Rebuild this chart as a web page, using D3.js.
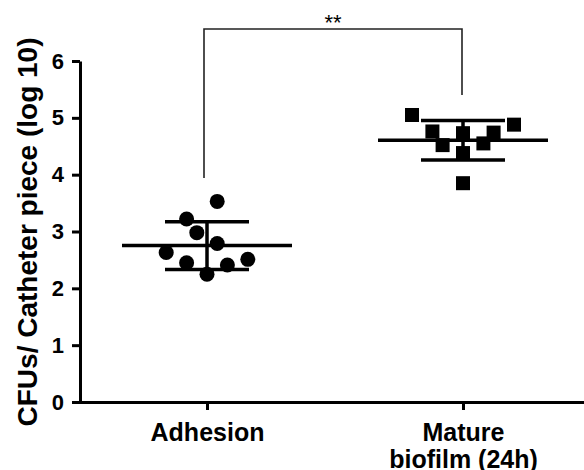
<!DOCTYPE html>
<html lang="en">
  <head>
    <meta charset="UTF-8" />
    <title>CFUs per catheter piece</title>
    <script src="https://d3js.org/d3.v7.min.js"></script>
    <style>
      body {
        margin: 0;
        background: #fff;
        font-family: "Liberation Sans", Arial, sans-serif;
      }
      .axis path,
      .axis line {
        stroke: #000;
        stroke-width: 3;
      }
      .axis text {
        font-family: "Liberation Sans", Arial, sans-serif;
        font-weight: bold;
        fill: #000;
      }
    </style>
  </head>
  <body>
    <div id="chart"></div>
    <script>
      // groups and log10 CFU values
      const categories = ["Adhesion", "Mature\nbiofilm (24h)"];
      const adhesionValues = [3.53, 3.22, 2.98, 2.79, 2.63, 2.45, 2.25, 2.41, 2.51];
      const matureValues = [5.05, 4.88, 4.76, 4.73, 4.74, 4.52, 4.55, 4.38, 3.85];
      // horizontal slot of each dot inside its column (scatter layout)
      const adhesionSlots = [1, -2, -1, 1, -4, -2, 0, 2, 4];
      const matureSlots = [-5, 5, -3, 0, 3, -2, 2, 0, 0];
      const yTicks = [0, 1, 2, 3, 4, 5, 6];
      const significance = "**";

      const width = 584;
      const height = 470;

      const svg = d3
        .select("#chart")
        .append("svg")
        .attr("width", width)
        .attr("height", height);

      const x = d3.scalePoint().domain(categories).range([79, 591]).padding(0.5);
      const y = d3.scaleLinear().domain([0, 6]).range([402, 61]);
      const slot = d3.scaleLinear().domain([0, 1]).range([0, 10.2]);

      const groups = [
        { name: categories[0], values: adhesionValues, slots: adhesionSlots, shape: "circle" },
        { name: categories[1], values: matureValues, slots: matureSlots, shape: "square" },
      ];

      // y axis
      const yAxis = svg
        .append("g")
        .attr("class", "axis")
        .attr("transform", "translate(80,0)")
        .call(d3.axisLeft(y).tickValues(yTicks).tickFormat(d3.format("d")).tickSize(8).tickSizeOuter(0).tickPadding(8));
      yAxis.selectAll("text").style("font-size", "22px");

      // x axis
      const xAxis = svg
        .append("g")
        .attr("class", "axis")
        .attr("transform", "translate(0,402)")
        .call(d3.axisBottom(x).tickSize(8).tickSizeOuter(0).tickPadding(13));
      xAxis.selectAll("text").style("font-size", "25px").each(function (d) {
        const t = d3.select(this);
        const lines = d.split("\n");
        t.text(null);
        lines.forEach((l, i) => {
          t.append("tspan")
            .attr("x", 0)
            .attr("dy", i === 0 ? "0.71em" : "1.1em")
            .text(l);
        });
        t.attr("dy", null);
      });

      // y axis title
      svg
        .append("text")
        .attr("transform", "translate(37,232) rotate(-90)")
        .attr("text-anchor", "middle")
        .style("font-size", "28px")
        .style("font-weight", "bold")
        .text("CFUs/ Catheter piece (log 10)");

      // dots
      groups.forEach((g) => {
        const cx = x(g.name);
        const sel = svg.append("g");
        if (g.shape === "circle") {
          sel
            .selectAll("circle")
            .data(g.values)
            .join("circle")
            .attr("cx", (d, i) => cx + slot(g.slots[i]))
            .attr("cy", (d) => y(d))
            .attr("r", 7.5)
            .attr("fill", "#000");
        } else {
          sel
            .selectAll("rect")
            .data(g.values)
            .join("rect")
            .attr("x", (d, i) => cx + slot(g.slots[i]) - 7)
            .attr("y", (d) => y(d) - 7)
            .attr("width", 14)
            .attr("height", 14)
            .attr("fill", "#000");
        }

        // mean +/- SD
        const m = d3.mean(g.values);
        const sd = d3.deviation(g.values);
        const lines = [
          [cx - 85, y(m), cx + 85, y(m)],
          [cx - 42, y(m + sd), cx + 42, y(m + sd)],
          [cx - 42, y(m - sd), cx + 42, y(m - sd)],
          [cx, y(m + sd), cx, y(m - sd)],
        ];
        sel
          .selectAll("line")
          .data(lines)
          .join("line")
          .attr("x1", (d) => d[0])
          .attr("y1", (d) => d[1])
          .attr("x2", (d) => d[2])
          .attr("y2", (d) => d[3])
          .attr("stroke", "#000")
          .attr("stroke-width", 3.5);
      });

      // significance bracket
      const bx1 = x(categories[0]) - 3;
      const bx2 = x(categories[1]) - 1;
      const by = 29;
      svg
        .append("path")
        .attr("d", `M${bx1},178V${by}H${bx2}V95`)
        .attr("fill", "none")
        .attr("stroke", "#222")
        .attr("stroke-width", 1.6);
      svg
        .append("text")
        .attr("x", (bx1 + bx2) / 2)
        .attr("y", 30)
        .attr("text-anchor", "middle")
        .style("font-size", "22px")
        .text(significance);
    </script>
  </body>
</html>
